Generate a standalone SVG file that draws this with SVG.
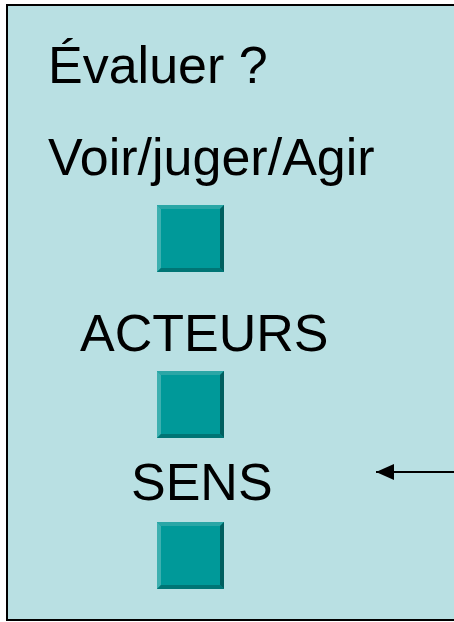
<svg xmlns="http://www.w3.org/2000/svg" width="454" height="622" viewBox="0 0 454 622">
<defs>
<style>
.t{font-family:"Liberation Sans",Arial,sans-serif;font-size:52px;fill:#000}
.face{fill:#009999}
.lt{fill:#3DB0B0}
.tp{fill:#2AA6A6}
.bt{fill:#007575}
.rt{fill:#005F5F}
</style>
<g id="bevel">
<rect class="face" x="0" y="0" width="67" height="67"/>
<polygon class="tp" points="0,0 67,0 63,4 4,4"/>
<polygon class="lt" points="0,0 4,4 4,63 0,67"/>
<polygon class="rt" points="67,0 67,67 63,63 63,4"/>
<polygon class="bt" points="0,67 67,67 63,63 4,63"/>
</g>
<marker id="ah" markerWidth="18" markerHeight="16" refX="18" refY="8" orient="auto" markerUnits="userSpaceOnUse">
<polygon points="18,8 0,0 0,16" fill="#000"/>
</marker>
</defs>
<rect x="0" y="0" width="454" height="622" fill="#fff"/>
<rect id="frame" x="7" y="5" width="460" height="615" fill="#B9E0E3" stroke="#000" stroke-width="2"/>
<g id="title"><text class="t" x="48" y="83">Évaluer ?</text></g>
<g id="voir"><text class="t" x="48" y="175">Voir/juger/Agir</text></g>
<g id="sq1"><use href="#bevel" x="157" y="205"/></g>
<g id="acteurs"><text class="t" x="80" y="351">ACTEURS</text></g>
<g id="sq2"><use href="#bevel" x="157" y="371"/></g>
<g id="sens"><text class="t" x="131" y="500">SENS</text></g>
<g id="sq3"><use href="#bevel" x="157" y="522"/></g>
<g id="connectors">
<line x1="454" y1="472" x2="376" y2="472" stroke="#000" stroke-width="2" marker-end="url(#ah)"/>
</g>
</svg>
